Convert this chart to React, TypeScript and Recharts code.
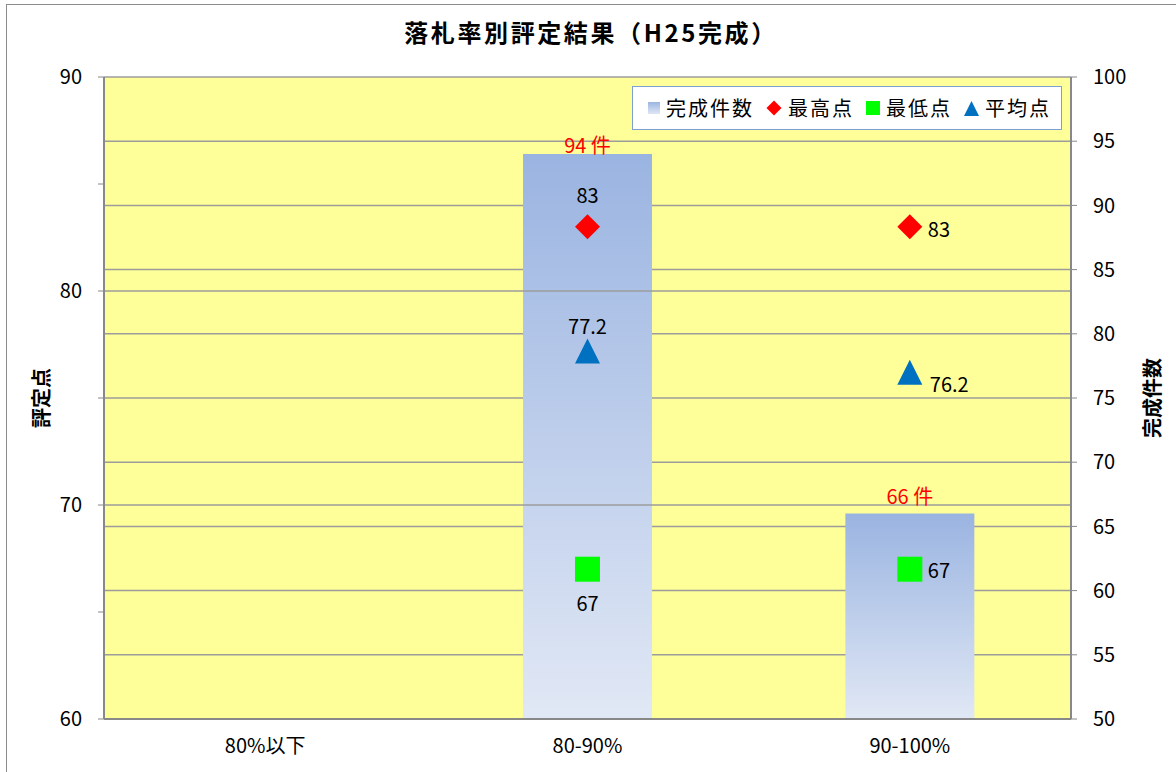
import { ComposedChart, Bar, Line, XAxis, YAxis, CartesianGrid, ReferenceLine, LabelList } from 'recharts';

const categories = ['80%以下', '80-90%', '90-100%'];
const counts = [0, 94, 66];
const maxScores = [null, 83, 83];
const minScores = [null, 67, 67];
const avgScores = [null, 77.2, 76.2];
const leftTicks = [60, 65, 70, 75, 80, 85, 90];
const leftMajor = [70, 80];
const rightTicks = [50, 55, 60, 65, 70, 75, 80, 85, 90, 95, 100];

const FONT = "'Noto Sans CJK JP', 'Noto Sans', sans-serif";
const GRID = '#9c9c9c';
const AXIS = '#888888';

const rows = categories.map((name, i) => ({
  name, count: counts[i], max: maxScores[i], min: minScores[i], avg: avgScores[i],
}));

// label placement per category: index 1 sits inside the bar, index 2 to the right
const pointLabel = (where: Record<number, [number, number, string]>) => (p: any) => {
  if (p.value == null) return null;
  const pos = where[p.index];
  if (!pos) return null;
  return (
    <text x={p.x + pos[0]} y={p.y + pos[1]} textAnchor={pos[2] as any} fontSize={20} fontFamily={FONT} fill="#000">
      {p.value}
    </text>
  );
};

const countGap = [10, 1, 10];
function CountLabel(p: any) {
  if (!p.value) return null;
  return (
    <text x={p.x + p.width / 2} y={p.y - countGap[p.index]} textAnchor="middle" fontSize={20} fontFamily={FONT} fill="#ff0000">
      {p.value} 件
    </text>
  );
}

function Diamond({ cx, cy, s = 12.5 }: any) {
  return <polygon points={`${cx},${cy - s} ${cx + s},${cy} ${cx},${cy + s} ${cx - s},${cy}`} fill="#ff0000" />;
}
function Square({ cx, cy, s = 12.5 }: any) {
  return <rect x={cx - s} y={cy - s} width={s * 2} height={s * 2} fill="#00ff00" />;
}
function Triangle({ cx, cy, s = 12.5 }: any) {
  return <polygon points={`${cx},${cy - s} ${cx + s},${cy + s} ${cx - s},${cy + s}`} fill="#0070c0" />;
}

const dotOf = (Shape: any) => (p: any) =>
  p.value == null || p.cy == null ? <g key={p.key} /> : <Shape key={p.key} cx={p.cx} cy={p.cy} />;

function LeftTick(p: any) {
  const v = p.payload.value;
  if (v % 10 !== 0) return <g />;
  return (
    <text x={p.x} y={p.y} dy="0.355em" textAnchor="end" fontSize={20} fontFamily={FONT} fill="#000">{v}</text>
  );
}

const legendItems = [
  { name: '完成件数', icon: <div style={{ width: 12, height: 12, background: 'linear-gradient(#9bb5e1, #e0e7f5)' }} /> },
  { name: '最高点', icon: <svg width={16} height={16}><Diamond cx={8} cy={8} s={7.5} /></svg> },
  { name: '最低点', icon: <div style={{ width: 14, height: 14, background: '#00ff00' }} /> },
  { name: '平均点', icon: <svg width={15} height={15}><Triangle cx={7.5} cy={7.5} s={7.5} /></svg> },
];

export default function App() {
  return (
    <div style={{ position: 'relative', width: 1176, height: 772, background: '#fff', fontFamily: FONT, overflow: 'hidden' }}>
      <style>{'body{margin:0}'}</style>
      <div style={{ position: 'absolute', left: 6, top: 4, width: 1200, height: 800, border: '1.5px solid #8c8c8c' }} />
      <div style={{ position: 'absolute', left: 0, width: 1182, top: 17, lineHeight: '30px', textAlign: 'center', fontSize: 24, fontWeight: 'bold', letterSpacing: 2.6 }}>
        落札率別評定結果（H25完成）
      </div>
      <div style={{ position: 'absolute', left: 40, top: 398, transform: 'translate(-50%, -50%) rotate(-90deg)', fontSize: 20, fontWeight: 'bold', whiteSpace: 'nowrap' }}>
        評定点
      </div>
      <div style={{ position: 'absolute', left: 1151, top: 398, transform: 'translate(-50%, -50%) rotate(-90deg)', fontSize: 20, fontWeight: 'bold', whiteSpace: 'nowrap' }}>
        完成件数
      </div>
      <div style={{ position: 'absolute', top: 0, left: 0 }}>
        <ComposedChart width={1176} height={772} data={rows} barCategoryGap="30%" margin={{ top: 77, right: 0, bottom: 23, left: 0 }}>
          <defs>
            <linearGradient id="barGrad" x1="0" y1="0" x2="0" y2="1">
              <stop offset="0%" stopColor="#9ab4e1" />
              <stop offset="100%" stopColor="#e1e8f5" />
            </linearGradient>
          </defs>
          <CartesianGrid yAxisId="right" vertical={false} fill="#ffff99" fillOpacity={1} stroke={GRID} strokeWidth={1.5} />
          {leftMajor.map(v => (
            <ReferenceLine key={v} yAxisId="left" y={v} stroke={GRID} strokeWidth={1.5} />
          ))}
          <XAxis dataKey="name" height={30} tickLine={false} axisLine={{ stroke: AXIS, strokeWidth: 2 }} tickMargin={14}
            tick={{ fontSize: 20, fontFamily: FONT, fill: '#000' }} />
          <YAxis yAxisId="left" orientation="left" width={104} domain={[60, 90]} ticks={leftTicks} interval={0} allowDataOverflow
            tickSize={6} tickMargin={16} tickLine={{ stroke: AXIS }} axisLine={{ stroke: AXIS, strokeWidth: 2 }} tick={<LeftTick />} />
          <YAxis yAxisId="right" orientation="right" width={105} domain={[50, 100]} ticks={rightTicks} interval={0} allowDataOverflow
            tickSize={6} tickMargin={16} tickLine={{ stroke: AXIS }} axisLine={{ stroke: AXIS, strokeWidth: 2 }}
            tick={{ fontSize: 20, fontFamily: FONT, fill: '#000', textAnchor: 'start' }} />
          <Bar yAxisId="right" dataKey="count" fill="url(#barGrad)" isAnimationActive={false}>
            <LabelList dataKey="count" content={<CountLabel />} />
          </Bar>
          <Line yAxisId="left" dataKey="max" stroke="none" dot={dotOf(Diamond)} activeDot={false} isAnimationActive={false}>
            <LabelList dataKey="max" content={pointLabel({ 1: [0, -24, 'middle'], 2: [18, 10, 'start'] })} />
          </Line>
          <Line yAxisId="left" dataKey="min" stroke="none" dot={dotOf(Square)} activeDot={false} isAnimationActive={false}>
            <LabelList dataKey="min" content={pointLabel({ 1: [0, 42, 'middle'], 2: [18, 9, 'start'] })} />
          </Line>
          <Line yAxisId="left" dataKey="avg" stroke="none" dot={dotOf(Triangle)} activeDot={false} isAnimationActive={false}>
            <LabelList dataKey="avg" content={pointLabel({ 1: [0, -17, 'middle'], 2: [20, 20, 'start'] })} />
          </Line>
        </ComposedChart>
      </div>
      <div style={{ position: 'absolute', left: 632, top: 86, width: 430, height: 44, boxSizing: 'border-box', background: '#fff',
        border: '1px solid #7da0d0', display: 'flex', alignItems: 'center', paddingLeft: 15, whiteSpace: 'nowrap' }}>
        {legendItems.map(it => (
          <div key={it.name} style={{ display: 'flex', alignItems: 'center', marginRight: 12, flexShrink: 0 }}>
            {it.icon}
            <span style={{ marginLeft: 6, fontSize: 20, letterSpacing: 2, lineHeight: '24px' }}>{it.name}</span>
          </div>
        ))}
      </div>
    </div>
  );
}
